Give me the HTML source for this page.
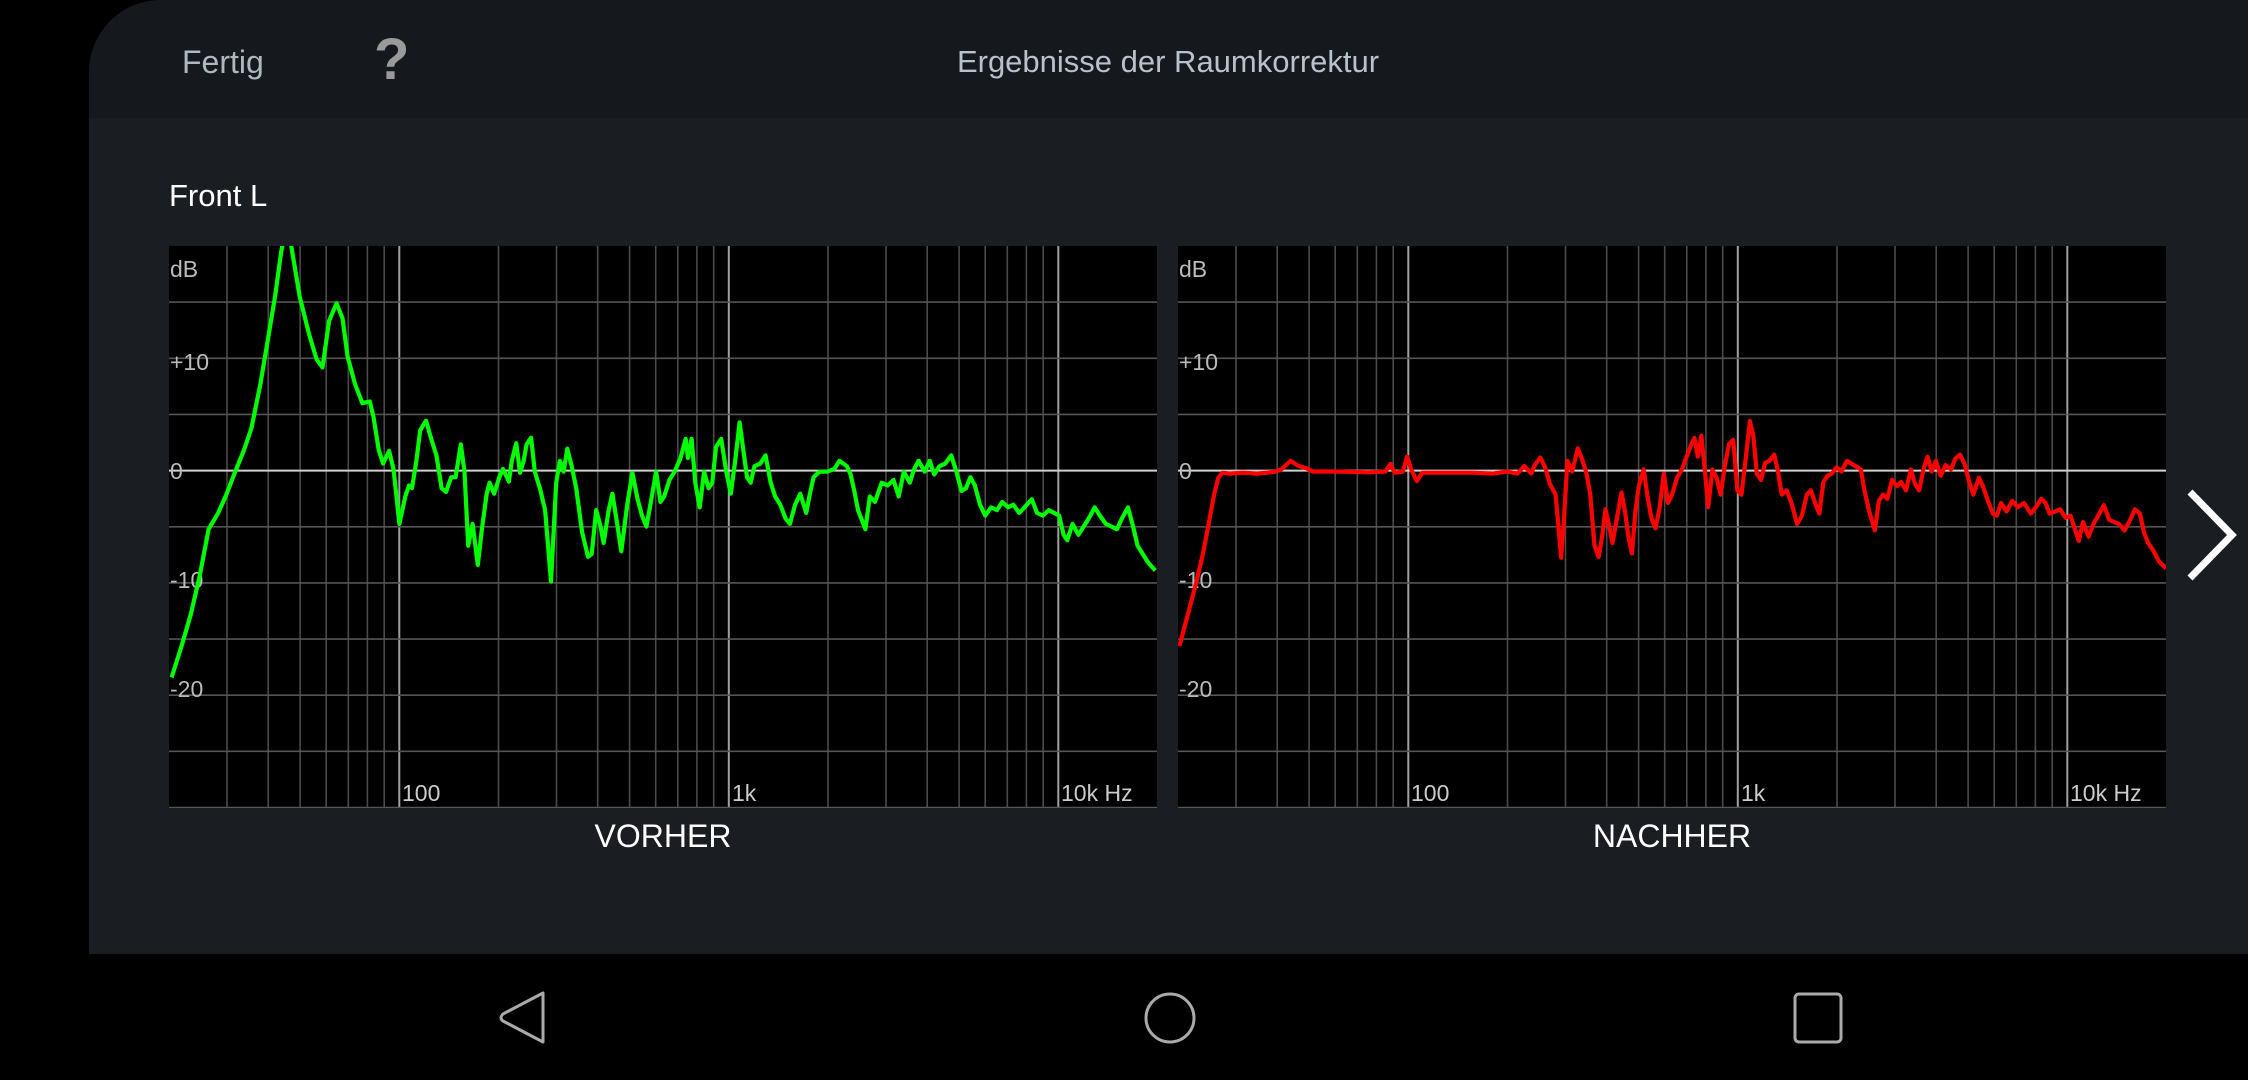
<!DOCTYPE html>
<html><head><meta charset="utf-8"><style>
html,body{margin:0;padding:0;background:#000;width:2248px;height:1080px;overflow:hidden;font-family:"Liberation Sans",sans-serif}
#panel{position:absolute;left:89px;top:0;width:2159px;height:954px;background:#1a1d21;border-top-left-radius:72px;overflow:hidden}
#hdr{position:absolute;left:0;top:0;width:2159px;height:118px;background:#15181d}
.t{position:absolute;white-space:nowrap}
svg{position:absolute}
</style></head><body>
<div id="panel"><div id="hdr"></div></div>
<div class="t" style="left:182px;top:44px;font-size:32px;color:#aeb8c1">Fertig</div>
<div class="t" style="left:374px;top:26px;font-size:58px;font-weight:bold;color:#9a9a9a">?</div>
<div class="t" style="left:952px;top:44px;width:432px;text-align:center;font-size:31px;color:#b8c2cc;letter-spacing:0px">Ergebnisse der Raumkorrektur</div>
<div class="t" style="left:169px;top:178px;font-size:31px;color:#fff">Front L</div>

<svg id="c1" style="left:169px;top:246px" width="988" height="562" viewBox="0 0 988 562"></svg>
<svg id="c2" style="left:1178px;top:246px" width="988" height="562" viewBox="0 0 988 562"></svg>

<div class="t" style="left:563px;top:818px;width:200px;text-align:center;font-size:32px;color:#fff">VORHER</div>
<div class="t" style="left:1572px;top:818px;width:200px;text-align:center;font-size:32px;color:#fff">NACHHER</div>

<svg style="left:2180px;top:485px" width="60" height="100"><polyline points="10,7 52,50 10,93" fill="none" stroke="#fff" stroke-width="7"/></svg>

<svg style="left:0;top:954px" width="2248" height="126">
<path d="M543,39 L543,88 L503,67 Q499,64 503,60 Z" fill="none" stroke="#aaa" stroke-width="3" stroke-linejoin="round"/>
<circle cx="1170" cy="64" r="24" fill="none" stroke="#aaa" stroke-width="3"/>
<rect x="1795" y="40" width="46" height="48" rx="4" fill="none" stroke="#aaa" stroke-width="3"/>
</svg>

<script>
var G=[[232,1235],[245,1180],[258,1120],[270,1050],[282,965],[295,935],[305,905],[318,860],[330,820],[340,780],[352,700],[362,620],[372,540],[380,460],[386,420],[390,420],[394,450],[405,540],[418,610],[428,655],[436,670],[445,585],[455,553],[463,580],[470,650],[480,700],[490,735],[500,732],[505,760],[512,820],[518,845],[526,822],[532,855],[540,955],[548,905],[553,885],[557,890],[563,840],[568,785],[576,767],[583,800],[590,830],[597,890],[603,897],[610,870],[616,870],[623,810],[628,860],[633,995],[639,955],[646,1030],[652,960],[658,900],[662,880],[668,900],[675,870],[680,855],[688,878],[692,840],[698,808],[703,862],[708,840],[712,810],[718,798],[723,860],[730,890],[737,930],[745,1060],[752,880],[757,840],[762,860],[767,818],[773,850],[779,890],[787,970],[795,1015],[800,1010],[806,930],[812,960],[816,990],[823,930],[828,900],[835,960],[840,1005],[848,920],[855,862],[862,910],[868,940],[874,960],[880,915],[887,860],[893,915],[898,905],[905,875],[912,860],[920,835],[927,800],[930,835],[935,800],[940,880],[946,925],[952,860],[958,890],[963,880],[968,815],[975,800],[982,860],[988,900],[994,840],[1000,770],[1005,820],[1010,870],[1015,880],[1020,850],[1028,845],[1035,830],[1042,880],[1048,905],[1055,920],[1062,945],[1068,955],[1075,920],[1082,900],[1090,935],[1095,900],[1100,870],[1108,860],[1118,860],[1128,855],[1135,840],[1145,850],[1150,865],[1155,895],[1160,930],[1170,965],[1176,905],[1183,915],[1192,880],[1200,885],[1208,875],[1215,905],[1222,860],[1230,880],[1236,855],[1242,840],[1250,860],[1257,840],[1263,865],[1270,850],[1278,845],[1286,830],[1293,860],[1300,895],[1306,890],[1312,870],[1318,885],[1325,920],[1332,940],[1340,925],[1348,930],[1355,915],[1363,925],[1370,920],[1378,935],[1385,925],[1395,910],[1402,935],[1410,940],[1418,930],[1425,935],[1432,940],[1438,975],[1443,985],[1450,955],[1458,975],[1465,960],[1472,945],[1480,925],[1487,940],[1495,955],[1503,960],[1510,965],[1517,945],[1525,925],[1532,960],[1538,995],[1545,1010],[1552,1025],[1562,1040]];
var R=[[28,1060],[40,985],[52,910],[62,840],[70,770],[78,700],[84,660],[90,648],[100,650],[120,648],[140,650],[165,646],[175,640],[188,620],[200,632],[212,638],[220,645],[250,645],[300,647],[325,645],[332,627],[338,648],[350,645],[356,610],[362,640],[370,668],[378,648],[400,648],[450,648],[480,650],[500,645],[515,650],[525,632],[535,650],[540,630],[548,612],[555,635],[562,675],[570,700],[575,790],[578,850],[582,760],[587,620],[594,645],[602,590],[608,615],[614,645],[620,700],[626,820],[632,848],[637,800],[642,735],[648,780],[652,815],[658,760],[665,695],[670,740],[675,800],[680,840],[685,740],[690,680],[697,640],[702,700],[708,755],[714,780],[720,730],[726,650],[732,720],[738,700],[745,660],[752,640],[760,605],[766,580],[770,565],[775,610],[780,560],[785,640],[790,730],[796,640],[802,660],[808,700],[814,630],[820,580],[826,570],[832,690],[838,700],[845,600],[850,525],[855,560],[860,650],[866,665],[872,625],[878,620],[885,605],[890,640],[896,700],[903,690],[910,720],[918,770],[925,750],[932,700],[938,690],[944,720],[950,745],[956,670],[962,655],[968,650],[975,635],[982,645],[990,620],[1000,630],[1010,640],[1015,690],[1022,740],[1030,785],[1036,715],[1042,700],[1048,710],[1055,665],[1062,680],[1068,670],[1075,690],[1082,640],[1088,675],[1094,690],[1100,640],[1106,610],[1112,645],[1118,620],[1125,655],[1132,630],[1140,640],[1146,615],[1153,605],[1160,630],[1166,670],[1172,700],[1180,660],[1186,680],[1192,710],[1200,745],[1206,750],[1212,720],[1220,740],[1228,715],[1236,730],[1245,720],[1255,745],[1262,730],[1270,710],[1276,720],[1282,745],[1290,740],[1297,735],[1305,755],[1312,750],[1318,780],[1324,810],[1330,765],[1338,800],[1345,770],[1352,750],[1360,725],[1368,760],[1375,765],[1382,770],[1390,785],[1398,760],[1405,735],[1412,745],[1418,790],[1424,815],[1432,835],[1440,860],[1450,875]];
function build(id,pts,fx,fy,col){
 var s='<rect width="988" height="562" fill="#000"/>';
 var D=329.5;
 for(var d=10;d<=10000;d*=10)for(var m=1;m<=9;m++){
  var F=m*d;var x=D*Math.log10(F/20);
  if(x<=0.5||x>987)continue;
  var maj=(m==1);
  s+='<line x1="'+x.toFixed(1)+'" y1="0" x2="'+x.toFixed(1)+'" y2="562" stroke="'+(maj?'#a0a0a0':'#4a4a4a')+'" stroke-width="'+(maj?2:1.6)+'"/>';
 }
 for(var i=1;i<=10;i++){var y=i*56.15;
  s+='<line x1="0" y1="'+y.toFixed(1)+'" x2="988" y2="'+y.toFixed(1)+'" stroke="'+(i==4?'#d0d0d0':'#555')+'" stroke-width="'+(i==4?2:1.6)+'"/>';}
 var lab=[['dB',22],['+10',115],['0',224],['-10',333],['-20',442]];
 lab.forEach(function(l){s+='<text x="1" y="'+(l[1]+9)+'" font-family="Liberation Sans" font-size="23" fill="#bbb">'+l[0]+'</text>';});
 s+='<text x="233" y="555" font-family="Liberation Sans" font-size="23" fill="#ccc">100</text>';
 s+='<text x="563" y="555" font-family="Liberation Sans" font-size="23" fill="#ccc">1k</text>';
 s+='<text x="892" y="555" font-family="Liberation Sans" font-size="23" fill="#ccc">10k Hz</text>';
 var p=pts.map(function(q){return (fx(q[0])).toFixed(1)+','+(fy(q[1])).toFixed(1);}).join(' ');
 s+='<polyline points="'+p+'" fill="none" stroke="'+col+'" stroke-width="4.2" stroke-linejoin="round"/>';
 document.getElementById(id).innerHTML=s;
}
build('c1',G,function(x){return x/1.352-169},function(y){return y/1.823-246},'#00ff00');
build('c2',R,function(x){return x/1.441-18},function(y){return y/2.376-46},'#ff0000');
</script>
</body></html>
